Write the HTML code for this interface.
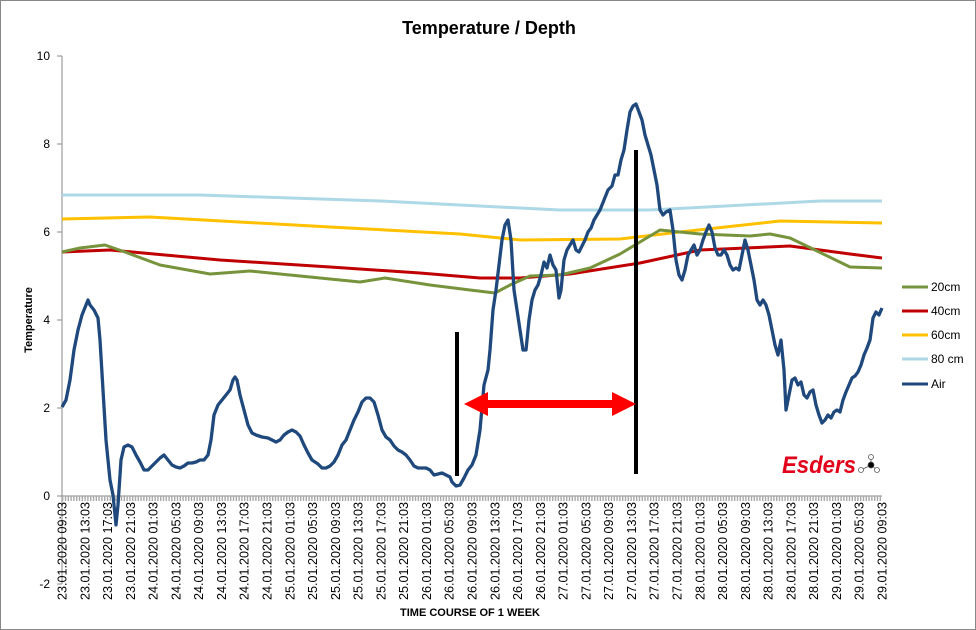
<!DOCTYPE html><html><head><style>body{margin:0;background:#fff}svg{display:block;font-family:"Liberation Sans",sans-serif}</style></head><body>
<svg width="976" height="630" viewBox="0 0 976 630">
<rect x="0.5" y="0.5" width="975" height="629" fill="#fff" stroke="#888"/>
<text x="489" y="34" font-size="18" font-weight="bold" text-anchor="middle">Temperature / Depth</text>
<g font-size="12" text-anchor="end">
<text x="50" y="60">10</text><text x="50" y="148">8</text><text x="50" y="236">6</text><text x="50" y="324">4</text><text x="50" y="412">2</text><text x="50" y="500">0</text><text x="50" y="588">-2</text></g>
<line x1="62" y1="56" x2="62" y2="584" stroke="#888"/>
<g stroke="#888"><line x1="57" y1="56" x2="62" y2="56"/><line x1="57" y1="144" x2="62" y2="144"/><line x1="57" y1="232" x2="62" y2="232"/><line x1="57" y1="320" x2="62" y2="320"/><line x1="57" y1="408" x2="62" y2="408"/><line x1="57" y1="496" x2="62" y2="496"/><line x1="57" y1="584" x2="62" y2="584"/></g>
<line x1="62" y1="496" x2="882" y2="496" stroke="#888"/>
<line x1="62" y1="498.5" x2="882" y2="498.5" stroke="#aaa" stroke-width="5" stroke-dasharray="1.4 1.4"/>
<text transform="translate(32,320) rotate(-90)" font-size="11" font-weight="bold" text-anchor="middle">Temperature</text>
<text x="470" y="616" font-size="11" font-weight="bold" text-anchor="middle">TIME COURSE OF 1 WEEK</text>
<g font-size="12.6" text-anchor="end">
<text transform="translate(66.5,502) rotate(-90)">23.01.2020 09:03</text>
<text transform="translate(89.3,502) rotate(-90)">23.01.2020 13:03</text>
<text transform="translate(112.1,502) rotate(-90)">23.01.2020 17:03</text>
<text transform="translate(134.8,502) rotate(-90)">23.01.2020 21:03</text>
<text transform="translate(157.6,502) rotate(-90)">24.01.2020 01:03</text>
<text transform="translate(180.4,502) rotate(-90)">24.01.2020 05:03</text>
<text transform="translate(203.2,502) rotate(-90)">24.01.2020 09:03</text>
<text transform="translate(225.9,502) rotate(-90)">24.01.2020 13:03</text>
<text transform="translate(248.7,502) rotate(-90)">24.01.2020 17:03</text>
<text transform="translate(271.5,502) rotate(-90)">24.01.2020 21:03</text>
<text transform="translate(294.3,502) rotate(-90)">25.01.2020 01:03</text>
<text transform="translate(317.1,502) rotate(-90)">25.01.2020 05:03</text>
<text transform="translate(339.8,502) rotate(-90)">25.01.2020 09:03</text>
<text transform="translate(362.6,502) rotate(-90)">25.01.2020 13:03</text>
<text transform="translate(385.4,502) rotate(-90)">25.01.2020 17:03</text>
<text transform="translate(408.2,502) rotate(-90)">25.01.2020 21:03</text>
<text transform="translate(430.9,502) rotate(-90)">26.01.2020 01:03</text>
<text transform="translate(453.7,502) rotate(-90)">26.01.2020 05:03</text>
<text transform="translate(476.5,502) rotate(-90)">26.01.2020 09:03</text>
<text transform="translate(499.3,502) rotate(-90)">26.01.2020 13:03</text>
<text transform="translate(522.1,502) rotate(-90)">26.01.2020 17:03</text>
<text transform="translate(544.8,502) rotate(-90)">26.01.2020 21:03</text>
<text transform="translate(567.6,502) rotate(-90)">27.01.2020 01:03</text>
<text transform="translate(590.4,502) rotate(-90)">27.01.2020 05:03</text>
<text transform="translate(613.2,502) rotate(-90)">27.01.2020 09:03</text>
<text transform="translate(635.9,502) rotate(-90)">27.01.2020 13:03</text>
<text transform="translate(658.7,502) rotate(-90)">27.01.2020 17:03</text>
<text transform="translate(681.5,502) rotate(-90)">27.01.2020 21:03</text>
<text transform="translate(704.3,502) rotate(-90)">28.01.2020 01:03</text>
<text transform="translate(727.1,502) rotate(-90)">28.01.2020 05:03</text>
<text transform="translate(749.8,502) rotate(-90)">28.01.2020 09:03</text>
<text transform="translate(772.6,502) rotate(-90)">28.01.2020 13:03</text>
<text transform="translate(795.4,502) rotate(-90)">28.01.2020 17:03</text>
<text transform="translate(818.2,502) rotate(-90)">28.01.2020 21:03</text>
<text transform="translate(840.9,502) rotate(-90)">29.01.2020 01:03</text>
<text transform="translate(863.7,502) rotate(-90)">29.01.2020 05:03</text>
<text transform="translate(886.5,502) rotate(-90)">29.01.2020 09:03</text>
</g>
<g fill="none" stroke-width="3" stroke-linejoin="round">
<polyline stroke="#add8e6" points="62,195 200,195 380,201 560,210 650,210 820,201 882,201"/>
<polyline stroke="#ffc000" points="62,219 150,217 330,227 460,234 520,240 620,239 680,232 780,221 882,223"/>
<polyline stroke="#c00000" points="62,252 110,250 220,260 330,267 420,273 480,278 520,278 570,274 640,263 700,250 790,246 850,254 882,258"/>
<polyline stroke="#77933c" points="62,252 80,248 105,245 125,252 160,265 210,274 250,271 300,276 360,282 385,278 430,285 470,290 495,293 510,285 530,276 560,275 590,268 620,254 640,242 660,230 700,234 750,236 770,234 790,238 815,250 850,267 882,268"/>
<polyline stroke="#1f497d" stroke-width="3.3" points="62,407 66,400 70,380 74,350 78,330 82,315 86,305 88,300 90,305 94,310 98,318 100,340 103,390 106,440 110,480 113,495 116,525 118,505 121,460 124,447 128,445 132,447 136,455 140,462 144,470 148,470 152,466 156,462 160,458 164,455 168,460 172,465 176,467 180,468 184,466 188,463 192,463 196,462 200,460 204,460 208,455 211,440 214,415 218,405 222,400 226,395 230,390 233,380 235,377 237,380 240,395 244,410 248,425 252,433 256,435 262,437 268,438 272,440 276,442 280,440 284,435 288,432 292,430 296,432 300,436 304,445 308,453 312,460 318,464 322,468 326,468 330,466 334,462 338,455 342,445 346,440 350,430 354,420 358,412 362,402 366,398 370,398 374,402 378,415 382,430 386,437 390,440 394,446 398,450 402,452 406,455 410,460 414,466 418,468 422,468 426,468 430,470 434,475 438,474 442,473 446,475 450,477 452,482 456,486 460,485 464,478 468,470 472,465 476,455 480,430 484,385 488,370 490,350 493,310 496,290 499,265 502,240 505,225 508,220 511,240 514,290 517,310 520,330 523,350 526,350 529,320 532,300 535,290 538,285 541,275 544,262 547,268 550,255 553,265 556,270 559,298 561,290 564,260 567,250 570,245 573,240 576,250 579,252 582,246 585,240 588,232 591,228 594,220 597,215 600,210 604,200 608,190 612,186 615,175 618,175 621,160 624,150 627,130 630,112 633,106 636,104 639,112 642,120 645,135 648,145 651,155 654,170 657,185 660,210 663,215 666,212 670,210 673,230 676,260 679,275 682,280 685,270 688,255 691,250 694,245 697,255 700,250 703,240 706,232 709,225 712,232 715,248 718,255 721,255 724,250 727,255 730,265 733,270 736,268 739,270 742,255 745,240 748,250 751,265 754,280 757,300 760,305 763,300 766,305 769,315 772,330 775,345 778,355 781,340 784,370 786,410 789,395 792,380 795,378 798,385 801,382 804,395 807,398 810,392 813,390 816,405 819,415 822,423 825,420 828,415 831,418 834,412 837,410 840,412 843,400 846,392 849,385 852,378 855,376 858,372 861,365 864,355 867,348 870,340 873,318 876,312 879,315 882,308"/>
</g>
<line x1="457" y1="332" x2="457" y2="476" stroke="#000" stroke-width="4"/>
<line x1="636" y1="150" x2="636" y2="474" stroke="#000" stroke-width="4"/>
<polygon fill="#ff0000" points="464,404 488,392 488,400 612,400 612,392 636,404 612,416 612,408 488,408 488,416"/>
<g font-size="12">
<line x1="902" y1="287" x2="928" y2="287" stroke="#77933c" stroke-width="3"/><text x="931" y="291">20cm</text>
<line x1="902" y1="311" x2="928" y2="311" stroke="#c00000" stroke-width="3"/><text x="931" y="315">40cm</text>
<line x1="902" y1="335" x2="928" y2="335" stroke="#ffc000" stroke-width="3"/><text x="931" y="339">60cm</text>
<line x1="902" y1="359" x2="928" y2="359" stroke="#add8e6" stroke-width="3"/><text x="931" y="363">80 cm</text>
<line x1="902" y1="384" x2="928" y2="384" stroke="#1f497d" stroke-width="3"/><text x="931" y="388">Air</text>
</g>
<text x="782" y="473" font-size="24" font-weight="bold" font-style="italic" fill="#e2001a" textLength="74" lengthAdjust="spacingAndGlyphs">Esders</text>
<g stroke="#555" fill="#fff" stroke-width="0.8"><line x1="871" y1="465" x2="861" y2="470"/><line x1="871" y1="465" x2="877" y2="470"/><line x1="871" y1="465" x2="871" y2="457"/><circle cx="871" cy="457" r="2.5"/><circle cx="861" cy="470" r="2.5"/><circle cx="877" cy="470" r="2.5"/><circle cx="871" cy="465" r="3" fill="#000"/></g>
</svg></body></html>
